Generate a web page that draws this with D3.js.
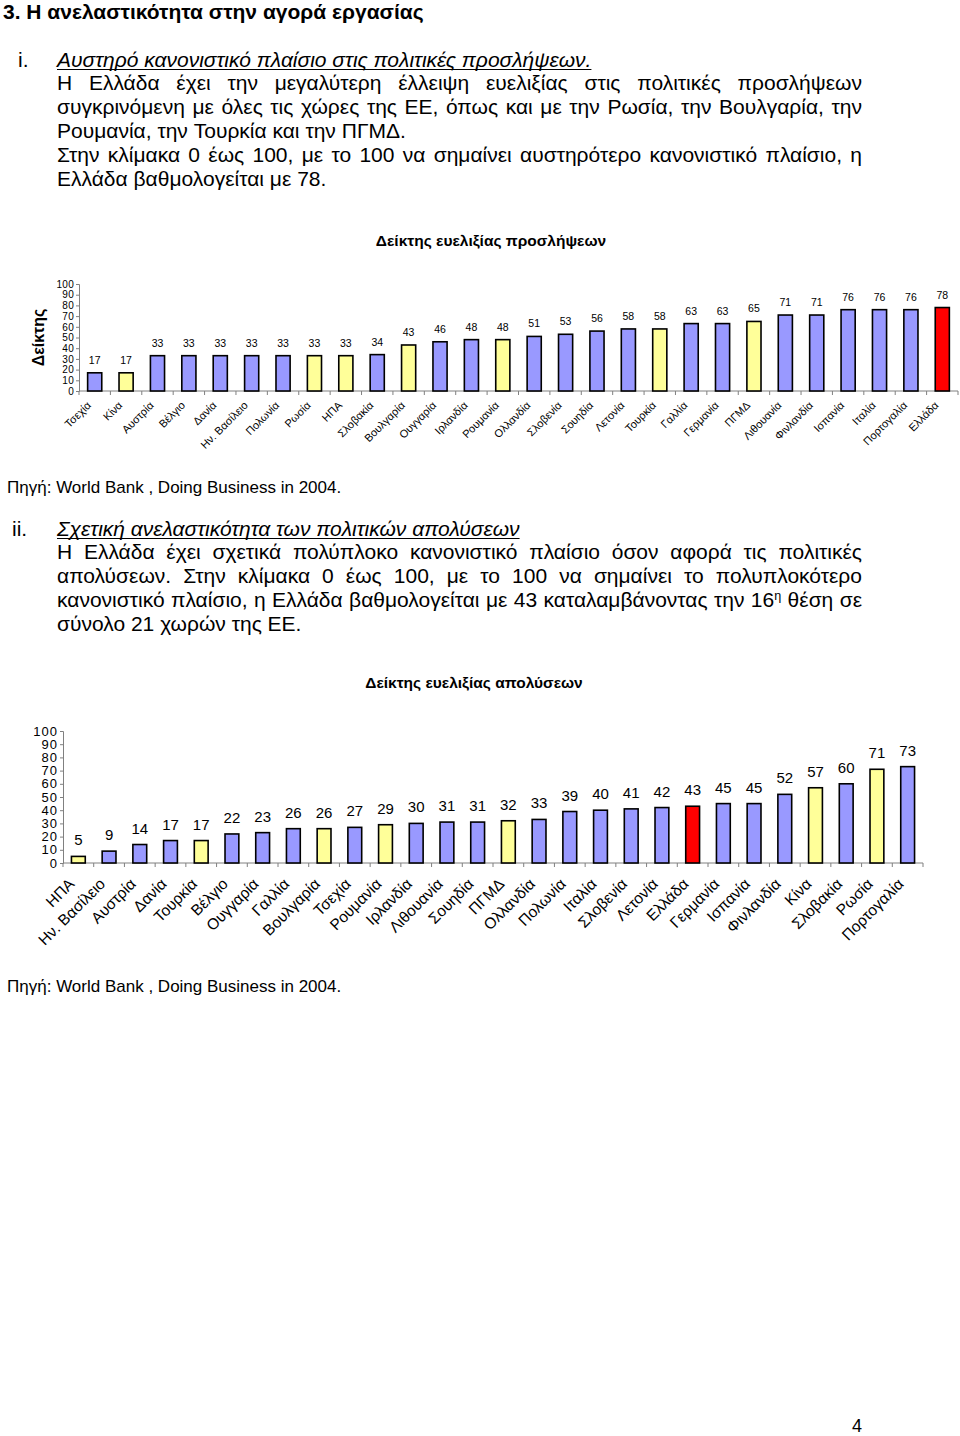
<!DOCTYPE html>
<html><head><meta charset="utf-8">
<script src="https://cdn.jsdelivr.net/npm/d3@7"></script>
<style>
html,body{margin:0;padding:0;background:#fff;}
svg text{font-family:"Liberation Sans",Arial,sans-serif;fill:#000;}
</style></head>
<body>
<svg id="page" width="960" height="1436"></svg>
<script>
// ---------- DATA ----------
const hireCategories = ["Τσεχία","Κίνα","Αυστρία","Βέλγιο","Δανία","Ην. Βασίλειο","Πολωνία","Ρωσία","ΗΠΑ","Σλοβακία","Βουλγαρία","Ουγγαρία","Ιρλανδία","Ρουμανία","Ολλανδία","Σλοβενία","Σουηδία","Λετονία","Τουρκία","Γαλλία","Γερμανία","ΠΓΜΔ","Λιθουανία","Φινλανδία","Ισπανία","Ιταλία","Πορτογαλία","Ελλάδα"];
const hireValues = [17,17,33,33,33,33,33,33,33,34,43,46,48,48,51,53,56,58,58,63,63,65,71,71,76,76,76,78];
const hireGroup = ["eu","non","eu","eu","eu","eu","eu","non","non","eu","non","eu","eu","non","eu","eu","eu","eu","non","eu","eu","non","eu","eu","eu","eu","eu","gr"];

const fireCategories = ["ΗΠΑ","Ην. Βασίλειο","Αυστρία","Δανία","Τουρκία","Βέλγιο","Ουγγαρία","Γαλλία","Βουλγαρία","Τσεχία","Ρουμανία","Ιρλανδία","Λιθουανία","Σουηδία","ΠΓΜΔ","Ολλανδία","Πολωνία","Ιταλία","Σλοβενία","Λετονία","Ελλάδα","Γερμανία","Ισπανία","Φινλανδία","Κίνα","Σλοβακία","Ρωσία","Πορτογαλία"];
const fireValues = [5,9,14,17,17,22,23,26,26,27,29,30,31,31,32,33,39,40,41,42,43,45,45,52,57,60,71,73];
const fireGroup = ["non","eu","eu","eu","non","eu","eu","eu","non","eu","non","eu","eu","eu","non","eu","eu","eu","eu","eu","gr","eu","eu","eu","non","eu","non","eu"];

const yTicks = [0,10,20,30,40,50,60,70,80,90,100];

const colorMap = {eu:"#9999FF", non:"#FFFF99", gr:"#FF0000"};

// ---------- TEXT HELPERS ----------
const svg = d3.select("#page");
const FONT = '"Liberation Sans",Arial,sans-serif';
const PS = 21; // paragraph font size

function textLine(str, x, y, opts={}) {
  const t = svg.append("text").attr("x", x).attr("y", y)
    .style("font-size", (opts.size||PS)+"px")
    .style("font-weight", opts.bold?"bold":"normal")
    .style("font-style", opts.italic?"italic":"normal")
    .text(str);
  if (opts.underline) {
    const w = t.node().getComputedTextLength();
    svg.append("line").attr("x1", x).attr("x2", x+w)
      .attr("y1", y+2.5).attr("y2", y+2.5).attr("stroke","#000").attr("stroke-width",1);
  }
  return t;
}

function justLine(str, x0, x1, y, justify, size=PS) {
  const words = str.split(" ");
  const nodes = words.map(w => {
    const t = svg.append("text").attr("y", y).style("font-size", size+"px");
    if (w.includes("^")) {
      const [a,b] = w.split("^");
      t.append("tspan").text(a);
      t.append("tspan").attr("dy", -7).style("font-size", (size*0.6)+"px").text(b);
    } else t.text(w);
    return t;
  });
  const widths = nodes.map(n => n.node().getComputedTextLength());
  const total = d3.sum(widths);
  const spaceW = size*0.278;
  const gap = justify ? (x1-x0-total)/(words.length-1) : spaceW;
  let x = x0;
  nodes.forEach((n,i) => { n.attr("x", x); x += widths[i] + gap; });
}

// ---------- PAGE TEXT ----------
textLine("3. Η ανελαστικότητα στην αγορά εργασίας", 3, 19, {size:21, bold:true});
textLine("i.", 18, 67);
textLine("Αυστηρό κανονιστικό πλαίσιο στις πολιτικές προσλήψεων.", 57, 67, {italic:true, underline:true});
const L = 57, R = 862;
justLine("Η Ελλάδα έχει την μεγαλύτερη έλλειψη ευελιξίας στις πολιτικές προσλήψεων", L, R, 90, true);
justLine("συγκρινόμενη με όλες τις χώρες της ΕΕ, όπως και με την Ρωσία, την Βουλγαρία, την", L, R, 114, true);
justLine("Ρουμανία, την Τουρκία και την ΠΓΜΔ.", L, R, 138, false);
justLine("Στην κλίμακα 0 έως 100, με το 100 να σημαίνει αυστηρότερο κανονιστικό πλαίσιο, η", L, R, 162, true);
justLine("Ελλάδα βαθμολογείται με 78.", L, R, 186, false);

textLine("Πηγή: World Bank , Doing Business in 2004.", 7, 493, {size:17});

textLine("ii.", 12, 536);
textLine("Σχετική ανελαστικότητα των πολιτικών απολύσεων", 57, 536, {italic:true, underline:true});
justLine("Η Ελλάδα έχει σχετικά πολύπλοκο κανονιστικό πλαίσιο όσον αφορά τις πολιτικές", L, R, 559, true);
justLine("απολύσεων. Στην κλίμακα 0 έως 100, με το 100 να σημαίνει το πολυπλοκότερο", L, R, 583, true);
justLine("κανονιστικό πλαίσιο, η Ελλάδα βαθμολογείται με 43 καταλαμβάνοντας την 16^η θέση σε", L, R, 607, true);
justLine("σύνολο 21 χωρών της ΕΕ.", L, R, 631, false);

textLine("Πηγή: World Bank , Doing Business in 2004.", 7, 992, {size:17});
textLine("4", 852, 1432, {size:18});

// ---------- CHART FUNCTION ----------
function barChart(cfg) {
  const g = svg.append("g");
  const x = d3.scaleBand().domain(cfg.cats).range([cfg.x0, cfg.x1])
    .paddingInner(0.55).paddingOuter(0.275);
  const y = d3.scaleLinear().domain([0,100]).range([cfg.yb, cfg.yt]);

  // title
  g.append("text").attr("x", cfg.titleX).attr("y", cfg.titleY)
    .attr("text-anchor","middle").style("font-size","15.5px").style("font-weight","bold")
    .text(cfg.title);

  // y axis
  const ya = g.append("g").attr("transform", `translate(${cfg.x0},0)`)
    .call(d3.axisLeft(y).tickValues(yTicks).tickSize(3).tickPadding(cfg.tickPad));
  ya.select(".domain").attr("stroke","#808080");
  ya.selectAll(".tick line").attr("stroke","#808080");
  ya.selectAll(".tick text").style("font-size", cfg.tickSize+"px")
    .style("letter-spacing", cfg.tickLS+"px")
    .style("font-family", FONT).attr("fill","#000");

  // x axis line + ticks between categories
  const step = x.step();
  const bounds = d3.range(cfg.cats.length+1).map(i => cfg.x0 + i*step);
  g.append("line").attr("x1", cfg.x0).attr("x2", cfg.x1)
    .attr("y1", cfg.yb).attr("y2", cfg.yb).attr("stroke","#808080");
  g.selectAll(".xt").data(bounds).join("line")
    .attr("x1", d=>d).attr("x2", d=>d).attr("y1", cfg.yb).attr("y2", cfg.yb+4)
    .attr("stroke","#808080");

  // bars
  g.selectAll(".bar").data(cfg.vals).join("rect")
    .attr("x", (d,i)=>x(cfg.cats[i]))
    .attr("y", d=>y(d))
    .attr("width", x.bandwidth())
    .attr("height", d=>y(0)-y(d))
    .attr("fill", (d,i)=>colorMap[cfg.groups[i]])
    .attr("stroke","#000").attr("stroke-width",1.6);

  // value labels
  g.selectAll(".val").data(cfg.vals).join("text")
    .attr("x", (d,i)=>x(cfg.cats[i]) + x.bandwidth()/2)
    .attr("y", d=>y(d) - cfg.valGap)
    .attr("text-anchor","middle")
    .style("font-size", cfg.valSize+"px")
    .text(d=>d);

  // category labels
  g.selectAll(".cat").data(cfg.cats).join("text")
    .attr("transform", d=>`translate(${x(d)+x.bandwidth()/2+cfg.labDx},${cfg.yb+cfg.labDy}) rotate(-45)`)
    .attr("text-anchor","end")
    .style("font-size", cfg.labSize+"px")
    .text(d=>d);

  // y title
  if (cfg.yTitle) {
    g.append("text").attr("transform", `translate(${cfg.yTitleX},${(cfg.yb+cfg.yt)/2}) rotate(-90)`)
      .attr("text-anchor","middle").style("font-size","16px").style("font-weight","bold")
      .text(cfg.yTitle);
  }
}

barChart({
  cats: hireCategories, vals: hireValues, groups: hireGroup,
  x0: 79, x1: 958, yb: 391, yt: 284,
  title: "Δείκτης ευελιξίας προσλήψεων", titleX: 491, titleY: 246,
  tickSize: 10, tickLS: 0.3, tickPad: 2, valSize: 10.5, valGap: 9,
  labSize: 11, labDx: -3, labDy: 15, yTitle: "Δείκτης", yTitleX: 44
});

barChart({
  cats: fireCategories, vals: fireValues, groups: fireGroup,
  x0: 63, x1: 923, yb: 863, yt: 731,
  title: "Δείκτης ευελιξίας απολύσεων", titleX: 474, titleY: 688,
  tickSize: 13, tickLS: 1, tickPad: 2, valSize: 15, valGap: 11,
  labSize: 15.5, labDx: -3, labDy: 22
});
</script>
</body></html>
